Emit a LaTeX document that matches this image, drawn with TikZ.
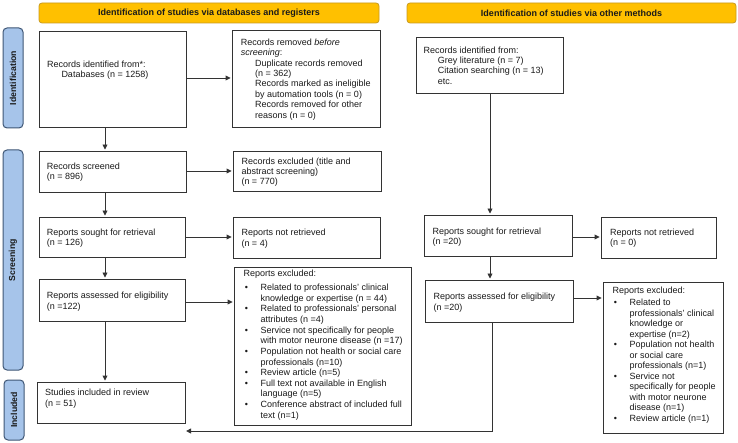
\documentclass[tikz,border=0pt]{standalone}
\usepackage{fontspec}
\setmainfont{Liberation Sans}
\usetikzlibrary{arrows.meta,fit,calc}
\definecolor{ylw}{HTML}{FFC000}
\definecolor{ylwd}{HTML}{C89A20}
\definecolor{blu}{HTML}{A6C4EA}
\definecolor{blud}{HTML}{3E5675}
\definecolor{lnc}{HTML}{333333}
\definecolor{tc}{HTML}{1A1A1A}
\newcommand\bu{\makebox[17.2pt][l]{\hspace{1.4pt}•}}
\newcommand\bi{\hspace*{17.2pt}}
\newcommand\ii{\hspace*{14.3pt}}
\newcommand\tx[5][]{\node[txt,#1] (#2) at (#3,{#4-7}) {\rule{0pt}{7pt}#5};}
\begin{document}
\begin{tikzpicture}[x=1pt,y=-1pt,
 box/.style={draw=lnc, line width=0.9pt, inner sep=0pt, fill=white},
 banner/.style={draw=ylwd, fill=ylw, rounded corners=3pt, line width=0.8pt, inner sep=0pt},
 side/.style={draw=blud, fill=blu, rounded corners=4pt, line width=1pt, inner sep=0pt},
 hdr/.style={font=\fontsize{9}{10}\selectfont\bfseries, text=tc, inner sep=0pt},
 sidetxt/.style={font=\fontsize{8.7}{10}\selectfont\bfseries, text=tc, inner sep=0pt, rotate=90},
 txt/.style={font=\fontsize{9}{10.4}\selectfont, text=tc, align=left, inner sep=0pt, anchor=north west},
 arr/.style={draw=lnc, line width=0.9pt, shorten >=1pt, -{Triangle[length=5pt,width=4.8pt]}}]
\useasboundingbox (0,0) rectangle (738,443);

% banners
\node[banner, fit={(39,3) (379,23)}] (P1) {};
\node[hdr] (P1t) at (P1.center) {Identification of studies via databases and registers};
\node[banner, fit={(407,3) (736,23)}] (P2) {};
\node[hdr] (P2t) at (P2.center) {Identification of studies via other methods};

% side labels
\node[side, fit={(3,28) (23,128)}] (S1) {};
\node[sidetxt] (S1t) at (S1.center) {Identification};
\node[side, fit={(3,150) (23,370)}] (S2) {};
\node[sidetxt] (S2t) at (S2.center) {Screening};
\node[side, fit={(4,380) (24,440)}] (S3) {};
\node[sidetxt] (S3t) at (S3.center) {Included};

% boxes
\node[box, fit={(39,31) (186,127)}] (A) {};
\node[box, fit={(232,30) (380,127)}] (B) {};
\node[box, fit={(39,151) (186,192)}] (C) {};
\node[box, fit={(233,151) (381,191)}] (D) {};
\node[box, fit={(39,217) (185,257)}] (E) {};
\node[box, fit={(233,217) (380,258)}] (F) {};
\node[box, fit={(39,279) (185,321)}] (G) {};
\node[box, fit={(234,267) (411,425)}] (H) {};
\node[box, fit={(37,382) (185,423)}] (J) {};
\node[box, fit={(416,37) (563,93)}] (K) {};
\node[box, fit={(424,215) (572,256)}] (L) {};
\node[box, fit={(601,217) (716,258)}] (M) {};
\node[box, fit={(425,280) (573,322)}] (N) {};
\node[box, fit={(603,282) (723,433)}] (I) {};

% texts
\tx{At}{47}{67.3}{Records identified from*:\\\ii Databases (n = 1258)}
\tx{Bt}{240.7}{45.2}{Records removed \textit{before}\\\textit{screening}:\\\ii Duplicate records removed\\\ii (n = 362)\\\ii Records marked as ineligible\\\ii by automation tools (n = 0)\\\ii Records removed for other\\\ii reasons (n = 0)}
\tx{Ct}{46.7}{169}{Records screened\\(n = 896)}
\tx{Dt}{241.3}{164}{Records excluded (title and\\abstract screening)\\(n = 770)}
\tx{Et}{46.7}{235}{Reports sought for retrieval\\(n = 126)}
\tx{Ft}{241.3}{235.5}{Reports not retrieved\\(n = 4)}
\tx{Gt}{46.7}{298.7}{Reports assessed for eligibility\\(n =122)}
\tx[font=\fontsize{9}{10.64}\selectfont]{Ht}{243.3}{276.3}{Reports excluded:\\[3.4pt]
\bu Related to professionals’ clinical\\
\bi knowledge or expertise (n = 44)\\
\bu Related to professionals’ personal\\
\bi attributes (n =4)\\
\bu Service not specifically for people\\
\bi with motor neurone disease (n =17)\\
\bu Population not health or social care\\
\bi professionals (n=10)\\
\bu Review article (n=5)\\
\bu Full text not available in English\\
\bi language (n=5)\\
\bu Conference abstract of included full\\
\bi text (n=1)}
\tx{Jt}{45}{395.4}{Studies included in review\\(n = 51)}
\tx[font=\fontsize{9}{10.2}\selectfont]{Kt}{423.3}{53.4}{Records identified from:\\\ii Grey literature (n = 7)\\\ii Citation searching (n = 13)\\\ii etc.}
\tx{Lt}{432.3}{234.4}{Reports sought for retrieval\\(n =20)}
\tx{Mt}{610}{235}{Reports not retrieved\\(n = 0)}
\tx{Nt}{433.3}{299.4}{Reports assessed for eligibility\\(n =20)}
\tx[font=\fontsize{9}{10.5}\selectfont]{It}{612.3}{293.4}{Reports excluded:\\[1.5pt]
\bu Related to\\
\bi professionals’ clinical\\
\bi knowledge or\\
\bi expertise (n=2)\\
\bu Population not health\\
\bi or social care\\
\bi professionals (n=1)\\
\bu Service not\\
\bi specifically for people\\
\bi with motor neurone\\
\bi disease (n=1)\\
\bu Review article (n=1)}

% connector helpers
\coordinate (cxl) at (105,0);
\coordinate (cxr) at (490,0);
\coordinate (cxr2) at (492,0);
\coordinate (yAB) at (0,78);
\coordinate (yCD) at (0,171);
\coordinate (yEF) at (0,237);
\coordinate (yGH) at (0,302);
\coordinate (yLM) at (0,237);
\coordinate (yNI) at (0,298);
\coordinate (ret) at (185,431);

\draw[arr] (A.east |- yAB) -- (B.west |- yAB);
\draw[arr] (A.south -| cxl) -- (C.north -| cxl);
\draw[arr] (C.east |- yCD) -- (D.west |- yCD);
\draw[arr] (C.south -| cxl) -- (E.north -| cxl);
\draw[arr] (E.east |- yEF) -- (F.west |- yEF);
\draw[arr] (E.south -| cxl) -- (G.north -| cxl);
\draw[arr] (G.east |- yGH) -- (H.west |- yGH);
\draw[arr] (G.south -| cxl) -- (J.north -| cxl);
\draw[arr] (K.south -| cxr) -- (L.north -| cxr);
\draw[arr] (L.east |- yLM) -- (M.west |- yLM);
\draw[arr] (L.south -| cxr) -- (N.north -| cxr);
\draw[arr] (N.east |- yNI) -- (I.west |- yNI);
\draw[arr] (N.south -| cxr2) |- (ret);
\end{tikzpicture}
\end{document}
